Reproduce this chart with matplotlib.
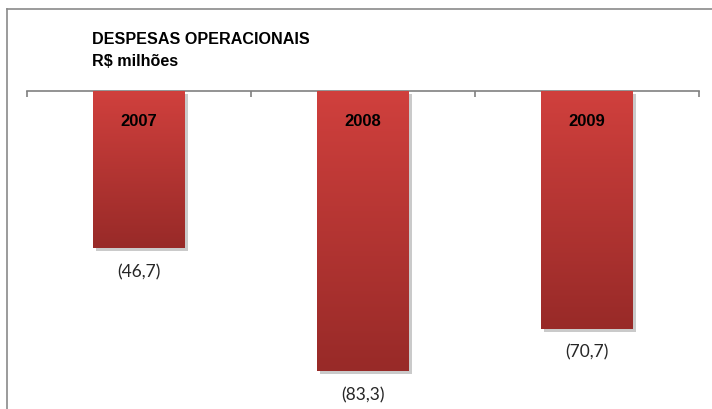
import numpy as np
import matplotlib
matplotlib.use("Agg")
import matplotlib.pyplot as plt
from matplotlib import patheffects as pe
from matplotlib.colors import LinearSegmentedColormap
from matplotlib.lines import Line2D

years = ["2007", "2008", "2009"]
values = [-46.7, -83.3, -70.7]
value_labels = ["(46,7)", "(83,3)", "(70,7)"]
title_lines = ["DESPESAS OPERACIONAIS", "R$ milhões"]

W, H = 712, 409
fig = plt.figure(figsize=(W / 100, H / 100), dpi=100)

sans = ["Liberation Sans", "DejaVu Sans"]

# axes: spans the category area, axis line at y=91px from top
ax_left, ax_right = 27 / W, 699 / W
ax_top = 1 - 91 / H
ax = fig.add_axes([ax_left, 0, ax_right - ax_left, ax_top])
px_per_unit = 3.36
ylim = (-(H - 91) / px_per_unit, 0)

x = np.arange(1, len(years) + 1)
cmap = LinearSegmentedColormap.from_list("red", ["#D0403D", "#982A28"])
grad = np.linspace(0, 1, 256).reshape(-1, 1)

bars = ax.bar(x, values, width=0.41, color="#C03A37", zorder=2,
              path_effects=[pe.SimplePatchShadow(offset=(2, -2.5), shadow_rgbFace="#a0a0a0", alpha=0.55),
                            pe.Normal()])
for b in bars:
    x0 = b.get_x()
    x1 = x0 + b.get_width()
    y0 = b.get_y() + b.get_height()
    im = ax.imshow(grad, extent=(x0, x1, y0, 0), aspect="auto", cmap=cmap,
                   origin="upper", zorder=3)
    im.set_clip_path(b)

ax.set_xlim(0.5, len(years) + 0.5)
ax.set_ylim(*ylim)

for xi, yr, v, lab in zip(x, years, values, value_labels):
    ax.annotate(yr, (xi, 0), xytext=(0, -30), textcoords="offset pixels",
                ha="center", va="center", fontsize=12, fontweight="bold",
                family=sans, color="black", zorder=5)
    ax.annotate(lab, (xi, v), xytext=(0, -24), textcoords="offset pixels",
                ha="center", va="center", fontsize=12.5, family=["Lato", "DejaVu Sans"],
                color="#262626", zorder=5, annotation_clip=False)

for s in ["left", "right", "bottom"]:
    ax.spines[s].set_visible(False)
ax.spines["top"].set_color("#808080")
ax.spines["top"].set_linewidth(1.2)
ax.xaxis.tick_top()
ax.set_xticks(np.arange(0.5, len(years) + 1, 1.0))
ax.tick_params(axis="x", direction="in", length=4.5, width=1.2, color="#808080",
               labeltop=False, labelbottom=False)
ax.set_yticks([])
ax.patch.set_alpha(0)

# outer frame (left and top edges)
fig.add_artist(Line2D([7 / W, 7 / W], [0, 1 - 9 / H], color="#8a8a8a", lw=1.2,
                      transform=fig.transFigure))
fig.add_artist(Line2D([7 / W, 1], [1 - 9 / H, 1 - 9 / H], color="#8a8a8a", lw=1.2,
                      transform=fig.transFigure))

fig.text(92 / W, 1 - 39 / H, title_lines[0], fontsize=11.6, fontweight="bold",
         family=sans, va="center", ha="left")
fig.text(92 / W, 1 - 62 / H, title_lines[1], fontsize=11.6, fontweight="bold",
         family=sans, va="center", ha="left")

fig.savefig("out.png", dpi=100)
